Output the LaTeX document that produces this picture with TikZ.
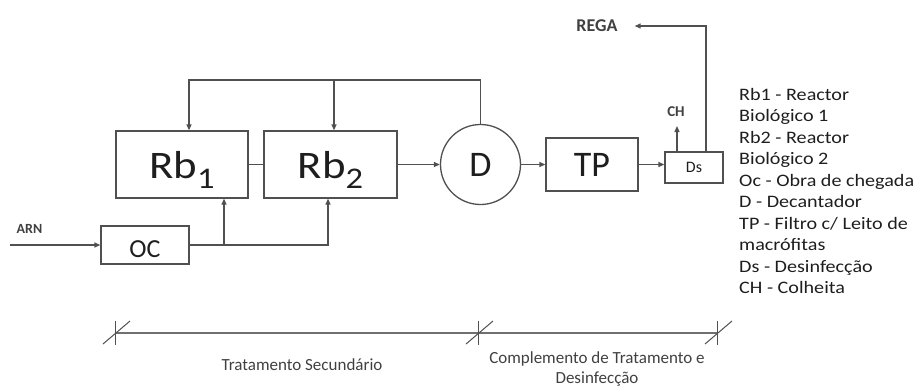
\documentclass[tikz,border=0pt]{standalone}
\usepackage{fontspec}
\setmainfont{Carlito}
\newfontfamily\widefont[FakeStretch=1.15]{Carlito}
\usetikzlibrary{arrows.meta,calc}
\definecolor{ln}{HTML}{505050}
\definecolor{tx}{HTML}{1E1E1E}
\definecolor{lbl}{HTML}{404040}
\definecolor{dimc}{HTML}{707070}
\begin{document}
\begin{tikzpicture}[x=1pt,y=-1pt,
  box/.style={draw=ln,line width=1.3pt,rectangle,inner sep=0pt,text=tx},
  conn/.style={draw=ln,line width=1.3pt},
  arr/.style={conn,-{Triangle[length=6pt,width=5pt]}},
  smalllbl/.style={font=\fontsize{15}{15}\selectfont\bfseries,text=lbl,inner sep=0pt},
  dimline/.style={draw=dimc,line width=2pt},
  dimtick/.style={draw=ln,line width=1pt},
  bottomlbl/.style={font=\fontsize{17}{19.5}\selectfont,text=lbl,align=center,inner sep=0pt},
]
\useasboundingbox (0,0) rectangle (924,389);

% main boxes
\node[box,minimum width=132pt,minimum height=67pt,text height=27pt,text depth=0pt,
      font=\widefont\fontsize{39}{39}\selectfont] (Rb1) at (182,164.5)
      {Rb\raisebox{-10pt}{\fontsize{30}{30}\selectfont 1}};
\node[box,minimum width=133pt,minimum height=67pt,text height=27pt,text depth=0pt,
      font=\widefont\fontsize{39}{39}\selectfont] (Rb2) at (330.5,164.5)
      {Rb\raisebox{-10pt}{\fontsize{30}{30}\selectfont 2}};
\node[box,circle,minimum size=80pt,text height=23pt,text depth=0pt,
      font=\fontsize{36}{36}\selectfont] (D) at (480.5,164.5) {D};
\node[box,minimum width=92pt,minimum height=53pt,text height=23pt,text depth=0pt,
      font=\fontsize{36}{36}\selectfont] (TP) at (592,164.5) {TP};
\node[box,minimum width=58pt,minimum height=31pt,
      font=\fontsize{16}{16}\selectfont] (Ds) at (694,167.5) {Ds};
\node[box,minimum width=88pt,minimum height=38pt,text height=24pt,text depth=0pt,
      font=\fontsize{26}{26}\selectfont] (OC) at (145,245) {OC};

% labels
\node[smalllbl,font=\fontsize{14}{14}\selectfont\bfseries] (ARN) at (29.5,229) {ARN};
\node[smalllbl] (CH) at (676,112) {CH};
\node[smalllbl,font=\fontsize{18}{18}\selectfont\bfseries] (REGA) at (597,26) {REGA};

% main flow
\draw[conn] (Rb1.east) -- (Rb2.west);
\draw[arr] (Rb2.east) -- (D.west);
\draw[arr] (D.east) -- (TP.west);
\draw[arr] (TP.east) -- (TP.east -| Ds.west);

% recirculation from D
\coordinate (fb1) at (189,80);
\coordinate (fb2) at (334,80);
\draw[arr] (D.north) |- (fb1) -- (fb1 |- Rb1.north);
\draw[arr] (fb2) -- (fb2 |- Rb2.north);

% feed from OC
\coordinate (in) at (10,245);
\draw[arr] (in) -- (OC.west);
\coordinate (b2) at (328,245);
\coordinate (b1) at (224,245);
\draw[arr] (OC.east) -- (b2) -- (b2 |- Rb2.south);
\draw[arr] (b1) -- (b1 |- Rb1.south);

% outputs of Ds
\coordinate (chc) at (677,126);
\draw[arr] (chc |- Ds.north) -- (chc);
\coordinate (rg) at (706,26);
\draw[arr] (rg |- Ds.north) -- (rg) -- ([xshift=17pt]REGA.east);

% legend
\node[anchor=north west,inner sep=0pt,align=left,text=tx,
      font=\widefont\fontsize{17.5}{21.5}\selectfont] (legend) at (739,88)
{Rb1 - Reactor\\
Biológico 1\\
Rb2 - Reactor\\
Biológico 2\\
Oc - Obra de chegada\\
D - Decantador\\
TP - Filtro c/ Leito de\\
macrófitas\\
Ds - Desinfecção\\
CH - Colheita};

% dimension line
\coordinate (d1) at (115,333);
\coordinate (d2) at (478,333);
\coordinate (d3) at (717,333);
\draw[dimline] (d1) -- (d3);
\foreach \p in {d1,d2,d3}{
  \draw[dimtick] ($(\p)+(-12,11)$) -- ($(\p)+(15,-12)$);
  \draw[dimtick] ($(\p)+(0,-12)$) -- ($(\p)+(0,12)$);
}
\node[bottomlbl] (sec) at (302,365) {Tratamento Secundário};
\node[bottomlbl] (comp) at (597,369) {Complemento de Tratamento e\\Desinfecção};
\end{tikzpicture}
\end{document}
